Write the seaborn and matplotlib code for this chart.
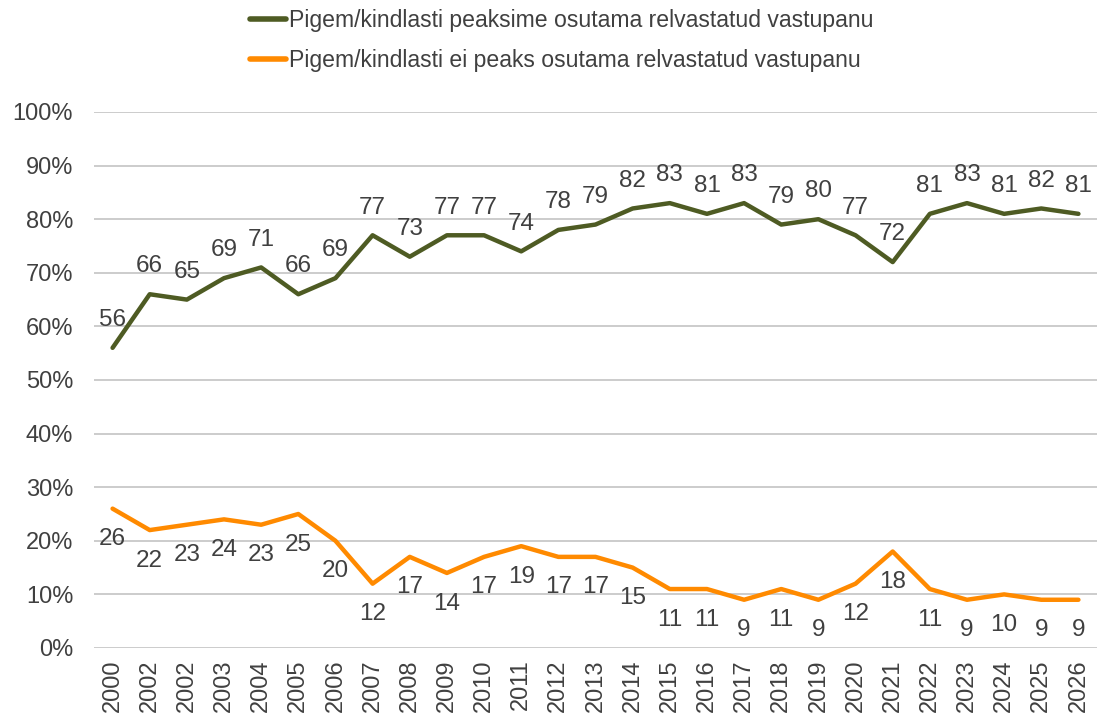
import matplotlib
matplotlib.use("Agg")
import matplotlib.pyplot as plt
import seaborn as sns
import pandas as pd
import numpy as np

# ---------------------------------------------------------------------------
# Data
# ---------------------------------------------------------------------------
YEARS = ["2000", "2002", "2002", "2003", "2004", "2005", "2006", "2007", "2008",
         "2009", "2010", "2011", "2012", "2013", "2014", "2015", "2016", "2017",
         "2018", "2019", "2020", "2021", "2022", "2023", "2024", "2025", "2026"]
SHOULD = [56, 66, 65, 69, 71, 66, 69, 77, 73, 77, 77, 74, 78, 79, 82, 83, 81, 83,
          79, 80, 77, 72, 81, 83, 81, 82, 81]
SHOULD_NOT = [26, 22, 23, 24, 23, 25, 20, 12, 17, 14, 17, 19, 17, 17, 15, 11, 11, 9,
              11, 9, 12, 18, 11, 9, 10, 9, 9]

LBL_SHOULD = "Pigem/kindlasti peaksime osutama relvastatud vastupanu"
LBL_NOT = "Pigem/kindlasti ei peaks osutama relvastatud vastupanu"

GREEN = "#4E5B23"
ORANGE = "#FF8A00"
TXT = "#404040"

idx = np.arange(len(YEARS))
df = pd.DataFrame({
    "pos": np.concatenate([idx, idx]),
    "value": np.array(SHOULD + SHOULD_NOT) / 100,
    "series": [LBL_SHOULD] * len(idx) + [LBL_NOT] * len(idx),
})

sns.set_theme(style="white")
plt.rcParams["font.family"] = ["Liberation Sans", "DejaVu Sans"]

fig = plt.figure(figsize=(10.99, 7.18), dpi=100)
ax = fig.add_axes([94 / 1099, (718 - 648) / 718, (1097 - 94) / 1099, (648 - 112) / 718])

sns.lineplot(data=df, x="pos", y="value", hue="series",
             palette={LBL_SHOULD: GREEN, LBL_NOT: ORANGE},
             linewidth=3.2, ax=ax)

# value labels: above the green line, below the orange one
for i, v in enumerate(SHOULD):
    ax.annotate(str(v), (i, v / 100), xytext=(0, 20), textcoords="offset points",
                ha="center", va="center", fontsize=17.5, color=TXT)
for i, v in enumerate(SHOULD_NOT):
    ax.annotate(str(v), (i, v / 100), xytext=(0, -22), textcoords="offset points",
                ha="center", va="center", fontsize=17.5, color=TXT)

ax.set_xlim(-0.5, len(YEARS) - 0.5)
ax.set_ylim(0, 1)
ticks = np.arange(0, 1.01, 0.1)
ax.set_yticks(ticks)
ax.set_yticklabels([f"{int(round(t * 100))}%" for t in ticks])
ax.set_xticks(idx)
ax.set_xticklabels(YEARS, rotation=90)
ax.tick_params(axis="both", labelsize=17, colors=TXT, length=0)
ax.tick_params(axis="y", pad=15)
ax.tick_params(axis="x", pad=8)
ax.set_xlabel("")
ax.set_ylabel("")
ax.yaxis.grid(True, color="#C8C8C8", linewidth=1.3)
ax.set_axisbelow(True)
for s in ax.spines.values():
    s.set_visible(False)

leg = ax.legend(loc="upper center", bbox_to_anchor=(0.466, 1.23), frameon=False,
                fontsize=16.6, handlelength=1.6, handletextpad=0.1, labelspacing=0.7,
                labelcolor=TXT)
for h in leg.get_lines():
    h.set_linewidth(4)

fig.savefig("out.png", dpi=100)
